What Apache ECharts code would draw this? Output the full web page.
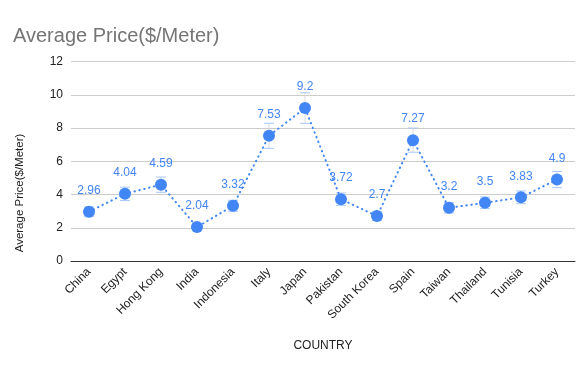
<!DOCTYPE html>
<html><head><meta charset="utf-8">
<script src="https://cdn.jsdelivr.net/npm/echarts@6/dist/echarts.min.js"></script>
<style>html,body{margin:0;padding:0;background:#fff}#c{width:585px;height:371px}</style>
</head><body><div id="c"></div>
<script>
var categories = ["China","Egypt","Hong Kong","India","Indonesia","Italy","Japan","Pakistan","South Korea","Spain","Taiwan","Thailand","Tunisia","Turkey"];
var prices = [2.96,4.04,4.59,2.04,3.32,7.53,9.2,3.72,2.7,7.27,3.2,3.5,3.83,4.9];
var errorPct = 0.10;
var yTicks = {min:0, max:12, interval:2};
var titleText = 'Average Price($/Meter)';
var yName = 'Average Price($/Meter)';
var xName = 'COUNTRY';

var errData = prices.map(function(v,i){ return [i, v*(1-errorPct), v*(1+errorPct)]; });
var FONT = 'Arial, Liberation Sans, sans-serif';

var chart = echarts.init(document.getElementById('c'), null, {renderer:'canvas'});
chart.setOption({
  animation:false,
  title:{text:titleText, left:8, top:21, textStyle:{fontFamily:FONT, fontSize:20, fontWeight:'normal', color:'#757575'}},
  grid:{left:71, right:10, top:61.5, bottom:110},
  graphic:[{type:'text', x:20, y:193, rotation:Math.PI/2,
    style:{text:yName, fontFamily:FONT, fontSize:11.5, fill:'#222', align:'center', verticalAlign:'middle'}}],
  xAxis:{type:'category', data:categories, boundaryGap:true,
    name:xName, nameLocation:'middle', nameGap:79,
    nameTextStyle:{fontFamily:FONT, fontSize:12, color:'#222'},
    axisLine:{lineStyle:{color:'#333', width:1}}, axisTick:{show:false},
    axisLabel:{rotate:45, fontFamily:FONT, fontSize:12, color:'#222', interval:0, margin:9}},
  yAxis:{type:'value', min:yTicks.min, max:yTicks.max, interval:yTicks.interval,
    axisLine:{show:false}, axisTick:{show:false},
    splitLine:{lineStyle:{color:'#cccccc'}},
    axisLabel:{fontFamily:FONT, fontSize:12, color:'#222', margin:8}},
  series:[
    {type:'custom', z:1, data:errData,
      renderItem:function(params, api){
        var x = api.value(0), lo = api.coord([x, api.value(1)]), hi = api.coord([x, api.value(2)]);
        var hw = 5;
        var st = {stroke:'#a8c7fa', lineWidth:1};
        return {type:'group', children:[
          {type:'line', shape:{x1:lo[0],y1:lo[1],x2:hi[0],y2:hi[1]}, style:{stroke:'#d6dbe3', lineWidth:1}},
          {type:'line', shape:{x1:lo[0]-hw,y1:lo[1],x2:lo[0]+hw,y2:lo[1]}, style:st},
          {type:'line', shape:{x1:hi[0]-hw,y1:hi[1],x2:hi[0]+hw,y2:hi[1]}, style:st}
        ]};
      }},
    {type:'line', z:3, data:prices, symbol:'circle', symbolSize:12,
      itemStyle:{color:'#4285f4'},
      lineStyle:{color:'#4285f4', width:2, type:[0.5,4.5], cap:'round'},
      label:{show:true, position:'top', distance:9, fontFamily:FONT, fontSize:12, color:'#4285f4'}}
  ]
});
</script></body></html>
